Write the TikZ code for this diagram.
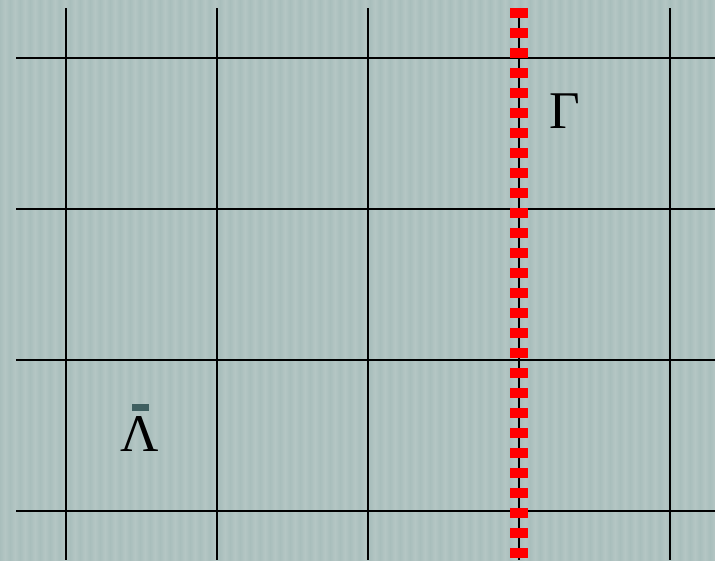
\documentclass[tikz,border=0pt]{standalone}
\usepackage{fontspec}
\newfontfamily\lblfont{Liberation Serif}
\begin{document}
\begin{tikzpicture}[x=1pt,y=-1pt,
  gridline/.style={black,line width=1.3pt},
  redline/.style={red,line width=18pt,dash pattern=on 10pt off 10pt,line cap=butt},
  lbl/.style={font=\lblfont\fontsize{53}{60}\selectfont,inner sep=0pt}]
\definecolor{bgA}{HTML}{A9BEBC}
\definecolor{bgB}{HTML}{B4C6C4}
\definecolor{barc}{HTML}{3F5F60}
\useasboundingbox (0,0) rectangle (715,560);
\fill[bgA] (0,0) rectangle (715,560);
\foreach \i in {0,...,71} {
  \shade[left color=bgA,right color=bgA,middle color=bgB] ({\i*10},0) rectangle ({\i*10+10},560);
}
% vertical grid lines
\foreach \x [count=\k] in {66,217,368,519,670} {
  \coordinate (vt\k) at (\x,8);
  \coordinate (vb\k) at (\x,560);
  \draw[gridline] (vt\k) -- (vb\k);
}
% horizontal grid lines
\foreach \y [count=\k] in {58,209,360,511} {
  \coordinate (hl\k) at (16,\y);
  \coordinate (hr\k) at (715,\y);
  \draw[gridline] (hl\k) -- (hr\k);
}
% red dashed line
\draw[redline] (vt4) -- (vb4);
% labels
\node[lbl,anchor=base] (gamma) at (565,128) {Γ};
\node[lbl,anchor=base] (lambda) at (140,451) {Λ};
\fill[barc] (132,404) rectangle (149,411);
\end{tikzpicture}
\end{document}
